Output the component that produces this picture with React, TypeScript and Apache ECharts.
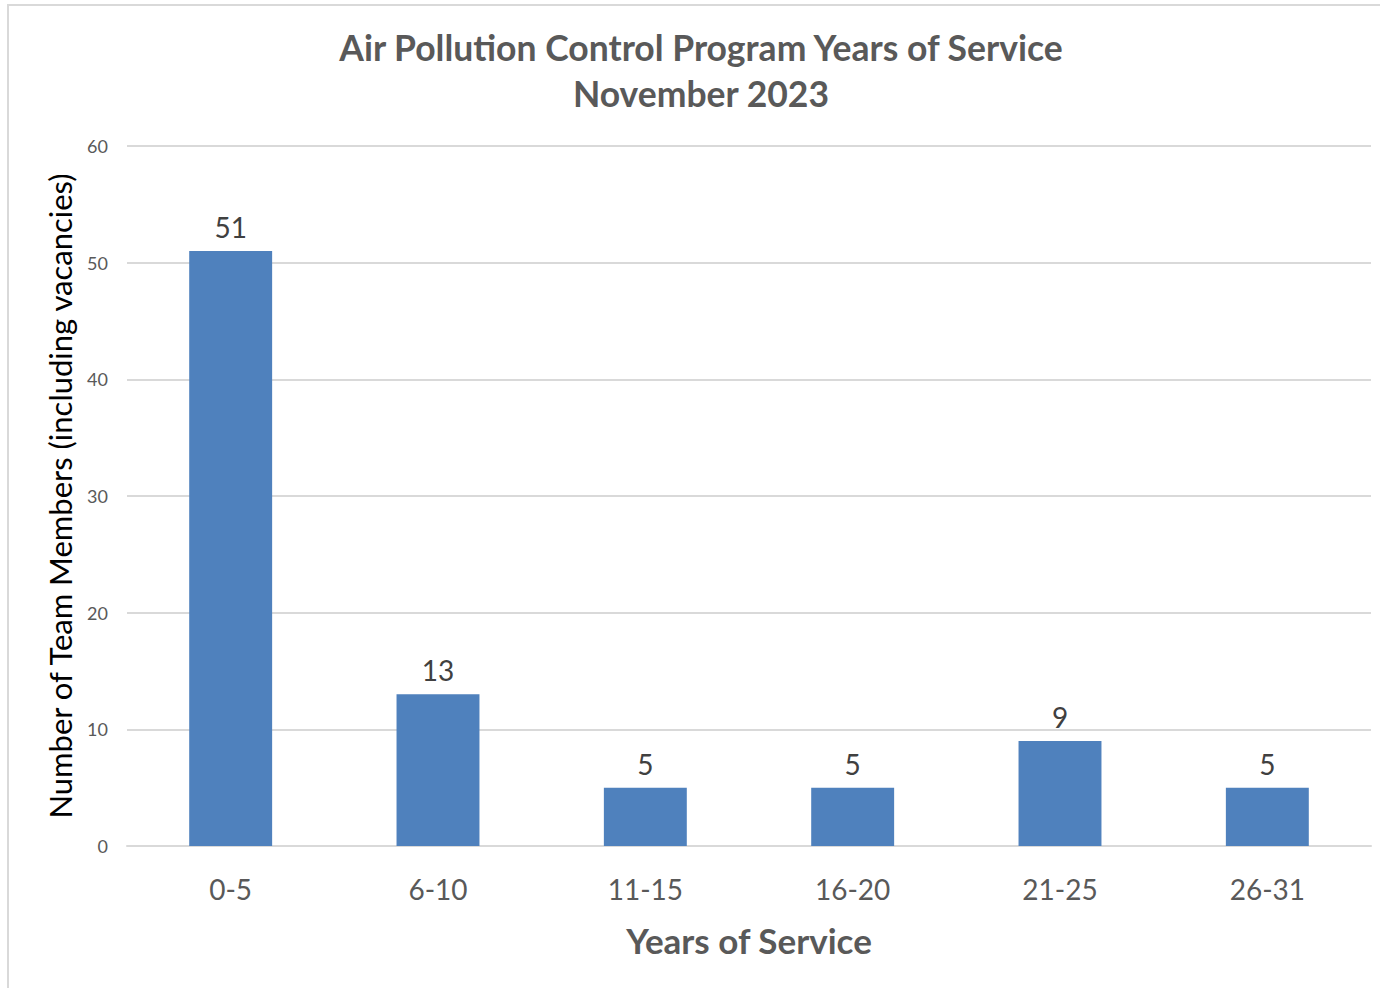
import React, { useEffect, useRef } from "react";
import * as echarts from "echarts";

const categories = ["0-5", "6-10", "11-15", "16-20", "21-25", "26-31"];
const members = [51, 13, 5, 5, 9, 5];
const yTicks = { min: 0, max: 60, interval: 10 };

const FONT = "Lato, 'Open Sans', sans-serif";

export default function App() {
  const ref = useRef<HTMLDivElement>(null);
  useEffect(() => {
    if (!ref.current) return;
    const chart = echarts.init(ref.current, null, { renderer: "svg" });
    chart.setOption({
      animation: false,
      backgroundColor: "#ffffff",
      textStyle: { fontFamily: FONT },
      graphic: [
        {
          type: "rect",
          shape: { x: 8, y: 5, width: 1400, height: 1000 },
          style: { fill: "none", stroke: "#d9d9d9", lineWidth: 2 },
          silent: true,
        },
      ],
      title: {
        text: "Air Pollution Control Program Years of Service\nNovember 2023",
        left: 696,
        textAlign: "center",
        top: 19,
        textStyle: {
          fontFamily: FONT,
          fontSize: 35.5,
          fontWeight: "bold",
          color: "#595959",
          lineHeight: 46,
        },
      },
      grid: { left: 127, right: 9, top: 146, bottom: 142, containLabel: false },
      xAxis: {
        type: "category",
        data: categories,
        axisLine: { show: true, lineStyle: { color: "#d9d9d9", width: 2 } },
        axisTick: { show: false },
        axisLabel: { color: "#595959", fontSize: 28, margin: 29, fontFamily: FONT },
        name: "Years of Service",
        nameLocation: "middle",
        nameGap: 76,
        nameTextStyle: { color: "#595959", fontSize: 35, fontWeight: "bold", fontFamily: FONT },
      },
      yAxis: {
        type: "value",
        min: yTicks.min,
        max: yTicks.max,
        interval: yTicks.interval,
        axisLine: { show: false },
        axisTick: { show: false },
        splitLine: { lineStyle: { color: "#d9d9d9", width: 2 } },
        axisLabel: { color: "#595959", fontSize: 18, margin: 19, fontFamily: FONT },
        name: "Number of Team Members (including vacancies)",
        nameLocation: "middle",
        nameGap: 52,
        nameTextStyle: { color: "#000000", fontSize: 31, fontFamily: FONT },
      },
      series: [
        {
          type: "bar",
          data: members,
          barWidth: "40%",
          itemStyle: { color: "#4f81bd" },
          label: {
            show: true,
            position: "top",
            distance: 10,
            color: "#404040",
            fontSize: 28,
            fontFamily: FONT,
          },
        },
      ],
    });
    return () => chart.dispose();
  }, []);
  return (
    <div
      ref={ref}
      style={{ position: "fixed", left: 0, top: 0, width: 1380, height: 988 }}
    />
  );
}
